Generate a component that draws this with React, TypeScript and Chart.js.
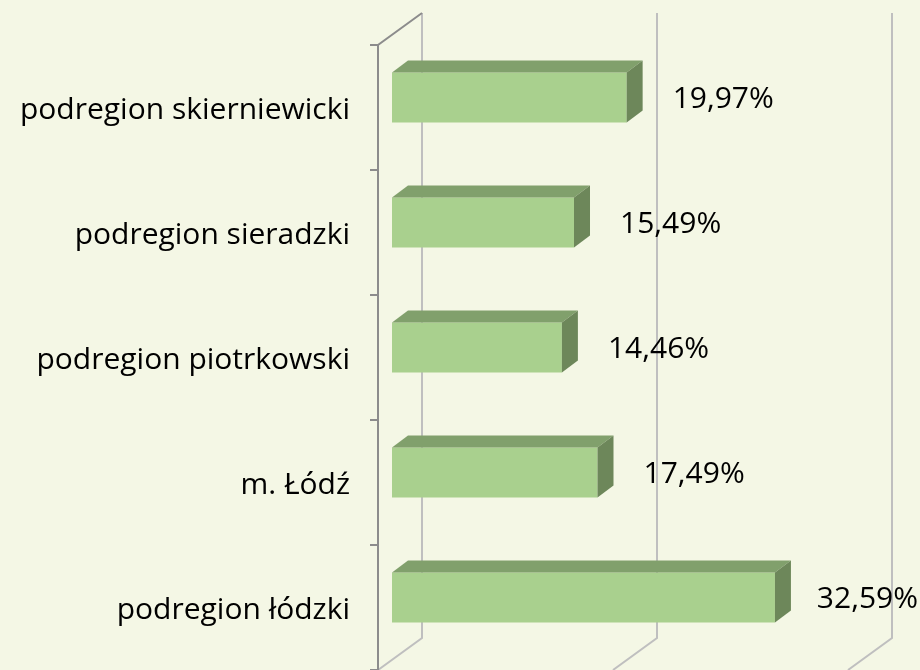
import React, { useEffect, useRef } from "react";
import { Chart, registerables } from "chart.js";

Chart.register(...registerables);

const categories = [
  "podregion skierniewicki",
  "podregion sieradzki",
  "podregion piotrkowski",
  "m. Łódź",
  "podregion łódzki",
];
const values = [19.97, 15.49, 14.46, 17.49, 32.59];
const gridTicks = [0, 20, 40];
const axisMax = 40;

const BG = "#F4F7E5";
const FRONT = "#A9D08E";
const TOP = "#81A06C";
const SIDE = "#6D875A";
const GRID = "#BFBFBF";
const AXIS = "#8C8C8C";

// 3D geometry (pixels)
const BAR_DX = 16, BAR_DY = -12;
const BACK_DX = 30, BACK_DY = -22;
const FRONT_DX = -14, FRONT_DY = 10;

const CAT_FONT = "30px 'Open Sans'";
const VAL_FONT = "30px 'Open Sans'";

const fmt = (v: number) => v.toFixed(2).replace(".", ",") + "%";

const threeD = {
  id: "threeD",
  beforeDraw(chart: any) {
    const { ctx, width, height } = chart;
    ctx.save();
    ctx.fillStyle = BG;
    ctx.fillRect(0, 0, width, height);
    ctx.restore();
  },
  beforeDatasetsDraw(chart: any) {
    const { ctx, chartArea: a } = chart;
    const xs = chart.scales.x;
    ctx.save();
    ctx.lineCap = "butt";
    gridTicks.forEach((t) => {
      const px = xs.getPixelForValue(t);
      ctx.strokeStyle = GRID;
      ctx.lineWidth = 2;
      ctx.beginPath();
      ctx.moveTo(px + BACK_DX, a.top + BACK_DY);
      ctx.lineTo(px + BACK_DX, a.bottom + BACK_DY);
      ctx.lineTo(px + FRONT_DX, a.bottom + FRONT_DY);
      ctx.stroke();
    });
    const x0 = xs.getPixelForValue(0);
    ctx.strokeStyle = AXIS;
    ctx.lineWidth = 2;
    ctx.beginPath();
    ctx.moveTo(x0 + FRONT_DX, a.bottom + FRONT_DY);
    ctx.lineTo(x0 + FRONT_DX, a.top + FRONT_DY);
    ctx.lineTo(x0 + BACK_DX, a.top + BACK_DY);
    ctx.stroke();
    const n = categories.length;
    const band = (a.bottom - a.top) / n;
    ctx.beginPath();
    for (let i = 0; i <= n; i++) {
      const y = a.top + i * band + FRONT_DY;
      ctx.moveTo(x0 + FRONT_DX - 8, y);
      ctx.lineTo(x0 + FRONT_DX, y);
    }
    ctx.stroke();
    const ys = chart.scales.y;
    ctx.fillStyle = "#000";
    ctx.font = CAT_FONT;
    ctx.textAlign = "right";
    ctx.textBaseline = "middle";
    categories.forEach((c, i) => {
      ctx.fillText(c, x0 + FRONT_DX - 28, ys.getPixelForValue(i) + 13);
    });
    ctx.restore();
  },
  afterDatasetsDraw(chart: any) {
    const { ctx, width } = chart;
    const meta = chart.getDatasetMeta(0);
    ctx.save();
    meta.data.forEach((el: any, i: number) => {
      const { x, y, base, height } = el.getProps(["x", "y", "base", "height"], true);
      const top = y - height / 2;
      const bottom = y + height / 2;
      ctx.fillStyle = TOP;
      ctx.beginPath();
      ctx.moveTo(base, top);
      ctx.lineTo(x, top);
      ctx.lineTo(x + BAR_DX, top + BAR_DY);
      ctx.lineTo(base + BAR_DX, top + BAR_DY);
      ctx.closePath();
      ctx.fill();
      ctx.fillStyle = SIDE;
      ctx.beginPath();
      ctx.moveTo(x, top);
      ctx.lineTo(x + BAR_DX, top + BAR_DY);
      ctx.lineTo(x + BAR_DX, bottom + BAR_DY);
      ctx.lineTo(x, bottom);
      ctx.closePath();
      ctx.fill();
      ctx.font = VAL_FONT;
      ctx.fillStyle = "#000";
      ctx.textAlign = "left";
      ctx.textBaseline = "middle";
      const txt = fmt(values[i]);
      const w = ctx.measureText(txt).width;
      const lx = Math.min(x + 46, width - w - 2);
      ctx.fillText(txt, lx, y + 2);
    });
    ctx.restore();
  },
};

export default function App() {
  const ref = useRef<HTMLCanvasElement>(null);
  useEffect(() => {
    document.body.style.margin = "0";
    document.body.style.background = BG;
    const chart = new Chart(ref.current!, {
      type: "bar",
      data: {
        labels: categories,
        datasets: [
          {
            data: values,
            backgroundColor: FRONT,
            borderWidth: 0,
            barPercentage: 0.4,
            categoryPercentage: 1,
          },
        ],
      },
      options: {
        indexAxis: "y",
        animation: false,
        responsive: true,
        maintainAspectRatio: false,
        layout: { padding: { left: 392, right: 58, top: 35, bottom: 10 } },
        plugins: { legend: { display: false }, tooltip: { enabled: false } },
        scales: {
          x: { min: 0, max: axisMax, display: false },
          y: { display: false },
        },
      },
      plugins: [threeD],
    });
    return () => chart.destroy();
  }, []);
  return (
    <div style={{ width: 920, height: 670, position: "relative" }}>
      <canvas ref={ref} />
    </div>
  );
}
